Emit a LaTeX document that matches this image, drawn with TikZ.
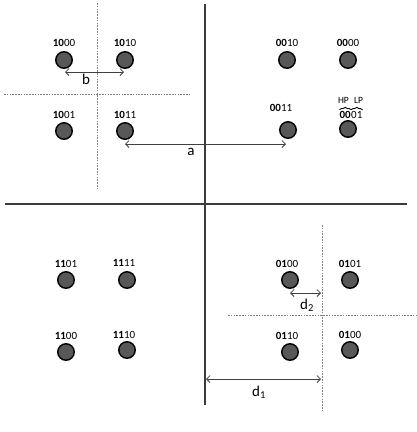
\documentclass[tikz,border=0pt]{standalone}
\usepackage{fontspec}
\setmainfont{Carlito}
\usetikzlibrary{arrows.meta,decorations.pathreplacing}
\definecolor{dotfill}{RGB}{88,88,88}
\definecolor{axisgray}{RGB}{60,60,60}
\tikzset{
  pt/.style={circle, draw=black, line width=1.4pt, fill=dotfill, minimum size=16.5pt, inner sep=0pt},
  lbl/.style={inner sep=0pt, font=\fontsize{11}{12}\selectfont},
  big/.style={inner sep=0pt, font=\fontsize{15}{17}\selectfont},
  small/.style={inner sep=0pt, font=\fontsize{9.5}{11}\selectfont},
  axis/.style={draw=axisgray, line width=1.2pt},
  guide/.style={draw=gray, line width=0.7pt, dash pattern=on 1.6pt off 1.2pt},
  dim/.style={draw=black!75, line width=0.8pt, {Straight Barb[length=3.5pt,width=7pt]}-{Straight Barb[length=3.5pt,width=7pt]}}
}
\begin{document}
\begin{tikzpicture}[x=1pt,y=-1pt]
\useasboundingbox (0,0) rectangle (416,432);
% axes
\coordinate (vtop) at (205,4);
\coordinate (vbot) at (205,405);
\coordinate (hl) at (5,204);
\coordinate (hr) at (407,204);
\draw[axis] (vtop) -- (vbot);
\draw[axis] (hl) -- (hr);
% guide lines
\coordinate (g1t) at (97,3);   \coordinate (g1b) at (97,190);
\coordinate (g2l) at (4,94);   \coordinate (g2r) at (190,94);
\coordinate (g3t) at (322,225); \coordinate (g3b) at (322,412);
\coordinate (g4l) at (228,315); \coordinate (g4r) at (416,315);
\draw[guide] (g1t) -- (g1b);
\draw[guide] (g2l) -- (g2r);
\draw[guide] (g3t) -- (g3b);
\draw[guide] (g4l) -- (g4r);
% points
\node[pt] (p1000) at (64,60) {};
\node[pt] (p1010) at (125,60) {};
\node[pt] (p1001) at (64,131) {};
\node[pt] (p1011) at (125,131) {};
\node[pt] (p0010) at (287,60) {};
\node[pt] (p0000) at (348,60) {};
\node[pt] (p0011) at (288,130) {};
\node[pt] (p0001) at (348,129) {};
\node[pt] (p1101) at (66,280) {};
\node[pt] (p1111) at (127,280) {};
\node[pt] (p1100) at (66,352) {};
\node[pt] (p1110) at (127,350) {};
\node[pt] (p0100) at (290,280) {};
\node[pt] (p0101) at (350,280) {};
\node[pt] (p0110) at (290,352) {};
\node[pt] (p0100b) at (350,350) {};
% labels
\node[lbl] (l1000) at (64,43) {\textbf{10}00};
\node[lbl] (l1010) at (125,43) {\textbf{10}10};
\node[lbl] (l1001) at (64,115) {\textbf{10}01};
\node[lbl] (l1011) at (125,115) {\textbf{10}11};
\node[lbl] (l0010) at (287,43) {\textbf{00}10};
\node[lbl] (l0000) at (348,43) {\textbf{00}00};
\node[lbl] (l0011) at (281,108) {\textbf{00}11};
\node[lbl, anchor=base east] (l0001a) at (351,118) {\textbf{00}};
\node[lbl, anchor=base west] (l0001b) at (l0001a.base east) {01};
\draw[line width=0.9pt, decorate, decoration={brace, amplitude=2.2pt}] ([yshift=1pt]l0001a.north west) -- ([yshift=1pt]l0001a.north east);
\draw[line width=0.9pt, decorate, decoration={brace, amplitude=2.2pt}] ([yshift=1pt]l0001b.north west) -- ([yshift=1pt]l0001b.north east);
\node[small, anchor=base] (hp) at ([yshift=7pt,xshift=-1.8pt]l0001a.north) {HP};
\node[small, anchor=base] (lp) at ([yshift=7pt,xshift=1.8pt]l0001b.north) {LP};
\node[lbl] (l1101) at (66,264) {\textbf{11}01};
\node[lbl] (l1111) at (124,263) {\textbf{11}11};
\node[lbl] (l1100) at (66,336) {\textbf{11}00};
\node[lbl] (l1110) at (124,335) {\textbf{11}10};
\node[lbl] (l0100) at (287,264) {\textbf{01}00};
\node[lbl] (l0101) at (350,264) {\textbf{01}01};
\node[lbl] (l0110) at (287,336) {\textbf{01}10};
\node[lbl] (l0100b) at (350,335) {\textbf{01}00};
% dimension arrows
\coordinate (bL) at (65,72);  \coordinate (bR) at (124,72);
\draw[dim] (bL) -- (bR);
\node[big] (tb) at (86,79) {b};
\coordinate (aL) at (125,144); \coordinate (aR) at (286,144);
\draw[dim] (aL) -- (aR);
\node[big] (ta) at (191,152) {a};
\coordinate (d2L) at (290,293); \coordinate (d2R) at (321,293);
\draw[dim] (d2L) -- (d2R);
\node[big] (td2) at (307,305) {d\textsubscript{2}};
\coordinate (d1L) at (206,379); \coordinate (d1R) at (321,379);
\draw[dim] (d1L) -- (d1R);
\node[big] (td1) at (259,392) {d\textsubscript{1}};
\end{tikzpicture}
\end{document}
